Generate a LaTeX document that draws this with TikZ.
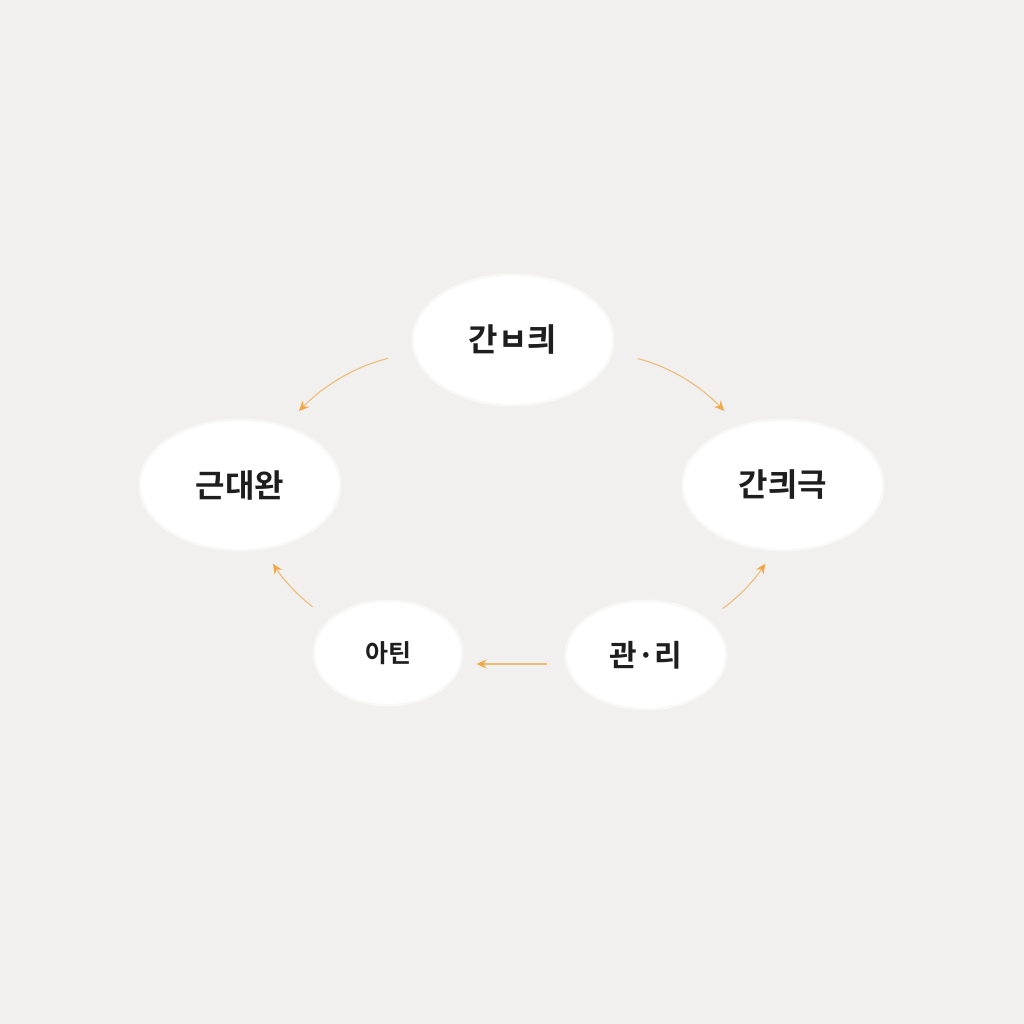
\documentclass[tikz,border=0pt]{standalone}
\usepackage{fontspec}
\setmainfont{Noto Sans CJK KR}[BoldFont={Noto Sans CJK KR Bold}]
\usetikzlibrary{shapes.geometric,arrows.meta}
\definecolor{bgc}{HTML}{F1F0EF}
\definecolor{arr}{HTML}{EDBD78}
\definecolor{tipc}{HTML}{F0A848}
\definecolor{txt}{HTML}{1E1E1E}
\tikzset{
  ell/.style={ellipse, fill=white, draw=white, draw opacity=0.55, line width=5pt, inner sep=0pt, text=txt},
  bigell/.style={ell, minimum width=198pt, minimum height=128pt, font=\fontsize{32}{36}\selectfont\bfseries},
  flow/.style={draw=arr, line width=1.1pt, -{Stealth[length=10pt,width=9pt,fill=tipc,color=tipc]}},
}
\begin{document}
\begin{tikzpicture}[x=1pt,y=-1pt]
\fill[bgc] (0,0) rectangle (1024,1024);
\useasboundingbox (0,0) rectangle (1024,1024);
\node[bigell] (top) at (513,340) {간ㅂ킈};
\node[bigell] (left) at (240,485) {근대완};
\node[bigell] (right) at (783,485) {간킈극};
\node[ell, minimum width=146pt, minimum height=102pt, font=\fontsize{25}{29}\selectfont\bfseries] (bl) at (388,653) {아틴};
\node[ell, minimum width=158pt, minimum height=106pt, font=\fontsize{30}{34}\selectfont\bfseries] (br) at (646,655) {관·리};
\draw[flow, shorten <=26pt, shorten >=20pt] (top.187) to[bend right=16] (left.53);
\draw[flow, shorten <=26pt, shorten >=20pt] (top.-7) to[bend left=16] (right.127);
\draw[flow, shorten <=18pt, shorten >=15pt] (br.30) to[bend right=10] (right.262);
\draw[flow, shorten <=21pt, shorten >=17pt] (bl.150) to[bend left=10] (left.290);
\draw[flow, shorten <=18pt, shorten >=13pt] (br.west |- 0,664) -- (bl.east |- 0,664);
\end{tikzpicture}
\end{document}
